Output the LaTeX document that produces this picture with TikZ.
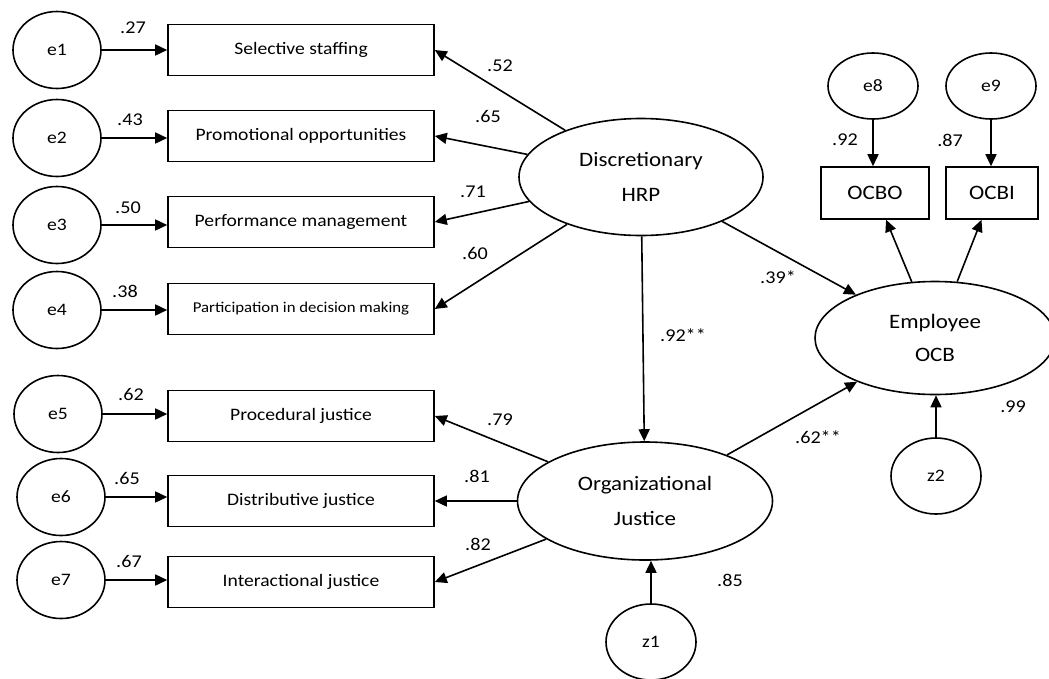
\documentclass[tikz,border=0pt]{standalone}
\usepackage{fontspec}
\setmainfont{Carlito}[FakeStretch=1.12]
\usetikzlibrary{arrows.meta,shapes.geometric}

\begin{document}
\begin{tikzpicture}[x=1pt,y=-1pt,
  errnode/.style={draw,ellipse,line width=1.6pt,minimum width=88pt,minimum height=77pt,inner sep=0pt,font=\fontsize{17.5}{19}\selectfont},
  itembox/.style={draw,rectangle,line width=1.6pt,minimum width=266pt,minimum height=51pt,inner sep=0pt,font=\fontsize{17.5}{20}\selectfont},
  latent/.style={draw,ellipse,line width=1.6pt,inner sep=0pt,align=center,font=\fontsize{20.5}{35}\selectfont},
  coef/.style={font=\fontsize{18}{20}\selectfont,inner sep=1pt},
  arr/.style={-{Triangle[length=12pt,width=11pt]},line width=1.6pt}]
\useasboundingbox (0,0) rectangle (1049,678);
\node[itembox] (b1) at (301,50) {Selective staffing};
\node[itembox] (b2) at (301,136) {Promotional opportunities};
\node[itembox] (b3) at (301,222) {Performance management};
\node[itembox,font=\fontsize{15}{17}\selectfont] (b4) at (301,309) {Participation in decision making};
\node[itembox] (b5) at (301,416) {Procedural justice};
\node[itembox] (b6) at (301,501) {Distributive justice};
\node[itembox] (b7) at (301,582) {Interactional justice};
\node[errnode] (e1) at (57,50) {e1};
\node[errnode] (e2) at (57,138) {e2};
\node[errnode] (e3) at (57,225) {e3};
\node[errnode] (e4) at (57,310) {e4};
\node[errnode] (e5) at (58,414) {e5};
\node[errnode] (e6) at (61,497) {e6};
\node[errnode] (e7) at (61,580) {e7};
\foreach \i in {1,...,7}
  \draw[arr] (e\i.east) -- (e\i.east -| b\i.west);
\node[coef] (c1) at (133,28) {.27};
\node[coef] (c2) at (130,120) {.43};
\node[coef] (c3) at (128,208) {.50};
\node[coef] (c4) at (125,291) {.38};
\node[coef] (c5) at (131,394) {.62};
\node[coef] (c6) at (127,478) {.65};
\node[coef] (c7) at (129,561) {.67};
\node[latent,minimum width=244pt,minimum height=117pt] (hrp) at (641,177) {Discretionary\\HRP};
\node[latent,minimum width=255pt,minimum height=118pt] (oj) at (645,501) {Organizational\\Justice};
\node[latent,minimum width=240pt,minimum height=113pt,font=\fontsize{20.5}{33}\selectfont] (ocb) at (935,338) {Employee\\OCB};
\node[draw,rectangle,line width=1.6pt,minimum width=108pt,minimum height=52pt,font=\fontsize{20.5}{22}\selectfont] (ocbo) at (875,193) {OCBO};
\node[draw,rectangle,line width=1.6pt,minimum width=92pt,minimum height=52pt,font=\fontsize{20.5}{22}\selectfont] (ocbi) at (992,193) {OCBI};
\node[errnode,minimum width=90pt,minimum height=66pt] (e8) at (873,86) {e8};
\node[errnode,minimum width=90pt,minimum height=66pt] (e9) at (991,86) {e9};
\node[errnode,minimum width=90pt,minimum height=76pt] (z1) at (651,642) {z1};
\node[errnode,minimum width=90pt,minimum height=76pt] (z2) at (936,476) {z2};
\foreach \b in {b1,b2,b3,b4}
  \draw[arr] (hrp) -- (\b.east);
\foreach \b in {b5,b6,b7}
  \draw[arr] (oj) -- (\b.east);
\draw[arr] (hrp) -- (oj);
\draw[arr] (hrp) -- (ocb);
\draw[arr] (oj) -- (ocb);
\draw[arr] (ocb) -- (ocbo);
\draw[arr] (ocb) -- (ocbi);
\draw[arr] (e8.south) -- (e8.south |- ocbo.north);
\draw[arr] (e9.south) -- (e9.south |- ocbi.north);
\draw[arr] (z1.north) -- (z1.north |- oj.south);
\draw[arr] (z2.north) -- (z2.north |- ocb.south);
\node[coef] (c8) at (500,66) {.52};
\node[coef] (c9) at (488,116) {.65};
\node[coef] (c10) at (473,192) {.71};
\node[coef] (c11) at (475,253) {.60};
\node[coef] (c12) at (500,420) {.79};
\node[coef] (c13) at (477,476) {.81};
\node[coef] (c14) at (478,544) {.82};
\node[coef] (c15) at (683,335) {.92**};
\node[coef] (c16) at (778,277) {.39*};
\node[coef] (c17) at (818,437) {.62**};
\node[coef] (c18) at (845,140) {.92};
\node[coef] (c19) at (950,140) {.87};
\node[coef] (c20) at (1013,407) {.99};
\node[coef] (c21) at (730,580) {.85};
\end{tikzpicture}
\end{document}
